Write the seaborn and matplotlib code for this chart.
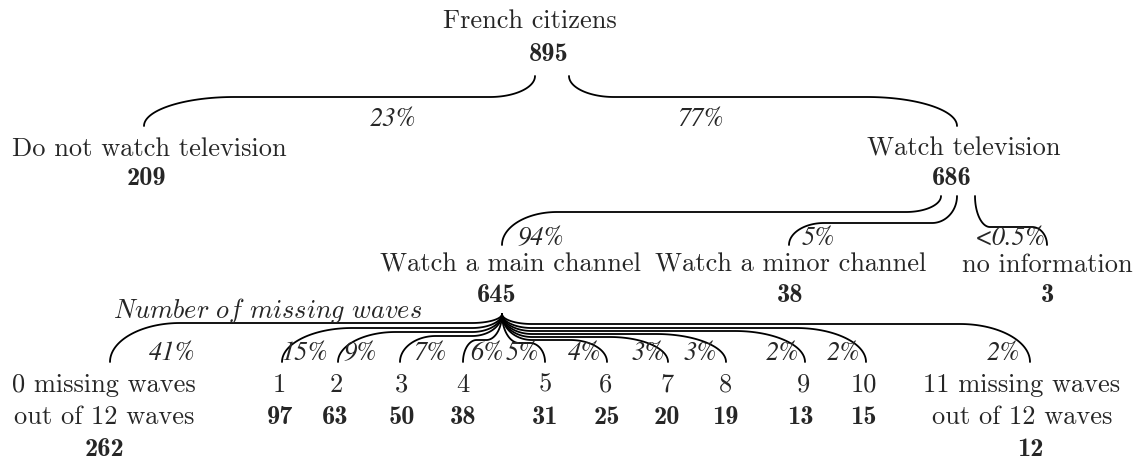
import numpy as np
import matplotlib
matplotlib.use("Agg")
import matplotlib.pyplot as plt
import seaborn as sns

# tree data
root_label = "French citizens"
root_n = 895

tv_labels = ["Do not watch television", "Watch television"]
tv_n = [209, 686]
tv_pct = ["23%", "77%"]

channel_labels = ["Watch a main channel", "Watch a minor channel", "no information"]
channel_n = [645, 38, 3]
channel_pct = ["94%", "5%", "<0.5%"]

wave_labels = ["0 missing waves\nout of 12 waves", "1", "2", "3", "4", "5", "6", "7", "8", "9", "10",
               "11 missing waves\nout of 12 waves"]
wave_n = [262, 97, 63, 50, 38, 31, 25, 20, 19, 13, 15, 12]
wave_pct = ["41%", "15%", "9%", "7%", "6%", "5%", "4%", "3%", "3%", "2%", "2%", "2%"]
wave_title = "Number of missing waves"

# layout (pixel coordinates, y going down)
root_xy = (530, 28)
root_n_x = 549
root_anchor = [(535, 77), (569, 77)]
tv_x = [149, 964]
tv_n_x = [146, 952]
tv_end = [144, 957]
tv_flat = [98, 98]
tv_pct_x = [393, 700]
tv_anchor = [(941, 197), (957, 197), (975, 197)]

ch_x = [511, 791, 1047]
ch_n_x = [497, 790, 1047]
ch_end = [502, 789, 1047]
ch_flat = [213, 224, 228]
ch_pct_x = [541, 818, 1010]

fan_origin = (502, 315)
wave_x = [104, 279, 336, 401, 463, 545, 606, 667, 725, 803, 864, 1022]
wave_n_x = [104, 280, 335, 402, 463, 545, 607, 667, 725, 800, 863, 1030]
wave_end = [110, 282, 338, 400, 463, 545, 607, 668, 726, 805, 866, 1030]
wave_flat = [324, 329, 333, 337, 341, 344, 341, 338, 335, 332, 329, 325]
wave_pct_x = [172, 305, 360, 430, 487, 522, 585, 648, 700, 782, 843, 1003]

sns.set_theme(style="white")
plt.rcParams["mathtext.fontset"] = "cm"
plt.rcParams["axes.formatter.use_mathtext"] = True

FS = 19
K = 0.55


def bezier(p0, p1, p2, p3, n=40):
    t = np.linspace(0, 1, n)[:, None]
    p0, p1, p2, p3 = map(np.array, (p0, p1, p2, p3))
    return (1 - t) ** 3 * p0 + 3 * (1 - t) ** 2 * t * p1 + 3 * (1 - t) * t ** 2 * p2 + t ** 3 * p3


def bracket(x0, y0, x1, y1, yh, r0, r1):
    # brace-like connector: down from parent, flat, then down into child
    s = np.sign(x1 - x0)
    a = bezier((x0, y0), (x0, y0 + K * (yh - y0)), (x0 + s * r0 * (1 - K), yh), (x0 + s * r0, yh))
    b = bezier((x1 - s * r1, yh), (x1 - s * r1 * (1 - K), yh), (x1, yh + (1 - K) * (y1 - yh)), (x1, y1))
    return np.vstack([a, b])


def draw(ax, pts):
    sns.lineplot(x=pts[:, 0], y=pts[:, 1], sort=False, estimator=None, color="black",
                 linewidth=1.3, ax=ax)


fig = plt.figure(figsize=(11.39, 4.64), dpi=100)
ax = fig.add_axes([0, 0, 1, 1])
ax.set_xlim(0, 1139)
ax.set_ylim(464, 0)
ax.axis("off")

roman = dict(fontfamily="cmr10", fontsize=FS, ha="center", va="baseline")
bold = dict(fontfamily="cmb10", fontsize=FS, ha="center", va="baseline")
ital = dict(fontfamily="STIXGeneral", fontstyle="italic", fontsize=FS, ha="center", va="baseline")

# root
ax.text(root_xy[0], root_xy[1], root_label, **roman)
ax.text(root_n_x, 61, str(root_n), **bold)

# level 1
for i in range(2):
    x0, y0 = root_anchor[i]
    draw(ax, bracket(x0, y0, tv_end[i], 127, tv_flat[i], 45, 90))
    ax.text(tv_pct_x[i], 126, tv_pct[i], **ital)
    ax.text(tv_x[i], 156, tv_labels[i], **roman)
    ax.text(tv_n_x[i], 185, str(tv_n[i]), **bold)

# level 2
ch_r0 = [35, 25, 15]
ch_r1 = [55, 35, 15]
for i in range(3):
    x0, y0 = tv_anchor[i]
    draw(ax, bracket(x0, y0, ch_end[i], 246, ch_flat[i], ch_r0[i], ch_r1[i]))
    ax.text(ch_pct_x[i], 245, channel_pct[i], **ital)
    ax.text(ch_x[i], 272, channel_labels[i], **roman)
    ax.text(ch_n_x[i], 302, str(channel_n[i]), **bold)

ax.text(422, 318, r"$\mathit{" + wave_title.replace(" ", r"\ ") + "}$",
        fontsize=FS, ha="right", va="baseline")

# level 3
x0, y0 = fan_origin
for i in range(len(wave_labels)):
    dx = abs(wave_end[i] - x0)
    r0 = min(30, dx * 0.4)
    r1 = min(70, dx * 0.35)
    draw(ax, bracket(x0, y0, wave_end[i], 363, wave_flat[i], r0, r1))
    ax.text(wave_pct_x[i], 360, wave_pct[i], **ital)
    lines = wave_labels[i].split("\n")
    for j, line in enumerate(lines):
        ax.text(wave_x[i], 392 + 32 * j, line, **roman)
    ax.text(wave_n_x[i], 392 + 32 * len(lines), str(wave_n[i]), **bold)

fig.savefig("out.png", dpi=100)
